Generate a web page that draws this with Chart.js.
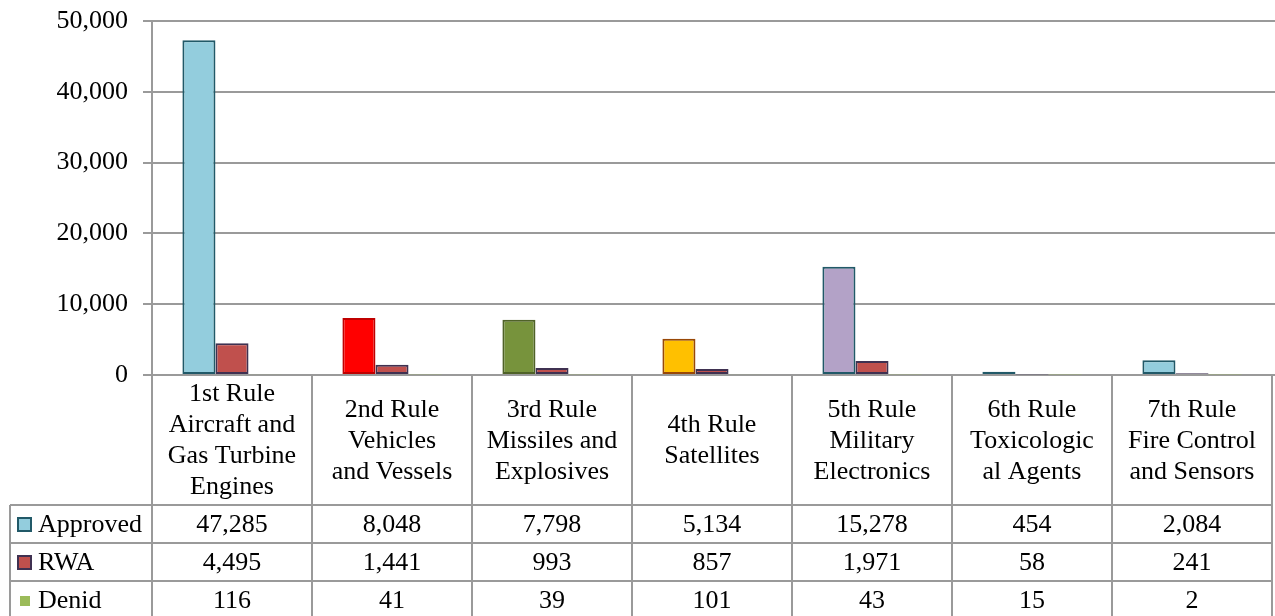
<!DOCTYPE html>
<html>
<head>
<meta charset="utf-8">
<script src="https://cdn.jsdelivr.net/npm/chart.js@4/dist/chart.umd.min.js"></script>
<style>
  html, body { margin: 0; padding: 0; background: #ffffff; }
  #wrap { width: 1275px; height: 616px; position: relative; }
</style>
</head>
<body>
<div id="wrap"><canvas id="c" width="1275" height="616"></canvas></div>
<script>
// ---- Data ----
const categories = [
  ["1st Rule", "Aircraft and", "Gas Turbine", "Engines"],
  ["2nd Rule", "Vehicles", "and Vessels"],
  ["3rd Rule", "Missiles and", "Explosives"],
  ["4th Rule", "Satellites"],
  ["5th Rule", "Military", "Electronics"],
  ["6th Rule", "Toxicologic", "al Agents"],
  ["7th Rule", "Fire Control", "and Sensors"]
];
const seriesNames = ["Approved", "RWA", "Denid"];
const approved = [47285, 8048, 7798, 5134, 15278, 454, 2084];
const rwa = [4495, 1441, 993, 857, 1971, 58, 241];
const denid = [116, 41, 39, 101, 43, 15, 2];
const yTicks = [0, 10000, 20000, 30000, 40000, 50000];

// ---- Styles ----
const approvedFill = ["#93CDDD", "#FF0000", "#77933C", "#FFC000", "#B3A2C7", "#93CDDD", "#93CDDD"];
const approvedBorder = ["#215968", "#C00000", "#4F6228", "#984807", "#215968", "#215968", "#215968"];
const FONT = "'Liberation Serif', 'Times New Roman', serif";
const FS = 26;
const GRID = "#9a9a9a";

const fmt = v => v.toLocaleString("en-US");
const seriesData = [approved, rwa, denid];

const tablePlugin = {
  id: "dataTable",
  afterDraw(chart) {
    const ctx = chart.ctx;
    const area = chart.chartArea;
    const xs = chart.scales.x;
    const n = categories.length;
    const w = (area.right - area.left) / n;
    const top = area.bottom;
    const headerBottom = top + 130;
    const rowH = 38;
    const rowsY = [headerBottom, headerBottom + rowH, headerBottom + 2 * rowH, headerBottom + 3 * rowH];
    const legendLeft = 10;
    ctx.save();
    ctx.strokeStyle = GRID;
    ctx.lineWidth = 2;
    // extend gridlines to right edge like the reference
    chart.scales.y.ticks.forEach(t => {
      const y = Math.round(chart.scales.y.getPixelForValue(t.value));
      ctx.beginPath();
      ctx.moveTo(area.right, y);
      ctx.lineTo(chart.width, y);
      ctx.stroke();
    });
    // vertical lines
    for (let i = 0; i <= n; i++) {
      const x = Math.round(area.left + i * w);
      ctx.beginPath();
      ctx.moveTo(x, top);
      ctx.lineTo(x, 620);
      ctx.stroke();
    }
    ctx.beginPath();
    ctx.moveTo(legendLeft, headerBottom);
    ctx.lineTo(legendLeft, 620);
    ctx.stroke();
    // horizontal lines
    for (let r = 0; r < 3; r++) {
      ctx.beginPath();
      ctx.moveTo(legendLeft, rowsY[r]);
      ctx.lineTo(area.right, rowsY[r]);
      ctx.stroke();
    }
    // header text
    ctx.fillStyle = "#000";
    ctx.font = FS + "px " + FONT;
    ctx.textAlign = "center";
    ctx.textBaseline = "middle";
    const lh = 31;
    const midH = (top + headerBottom) / 2;
    categories.forEach((lines, i) => {
      const cx = xs.getPixelForValue(i);
      const y0 = midH - (lines.length - 1) * lh / 2;
      lines.forEach((t, k) => ctx.fillText(t, cx, y0 + k * lh + 1));
    });
    // value rows
    seriesData.forEach((arr, r) => {
      const cy = (rowsY[r] + rowsY[r] + rowH) / 2 + 1;
      arr.forEach((v, i) => {
        ctx.fillText(fmt(v), xs.getPixelForValue(i), cy);
      });
    });
    // legend keys
    const keyFill = ["#93CDDD", "#C0504D", "#9BBB59"];
    const keyBorder = ["#215968", "#3F3151", null];
    ctx.textAlign = "left";
    seriesNames.forEach((name, r) => {
      const cy = (rowsY[r] + rowsY[r] + rowH) / 2;
      if (keyBorder[r]) {
        ctx.fillStyle = keyFill[r];
        ctx.fillRect(18, cy - 6, 13, 13);
        ctx.strokeStyle = keyBorder[r];
        ctx.lineWidth = 2;
        ctx.strokeRect(18, cy - 6, 13, 13);
      } else {
        ctx.fillStyle = keyFill[r];
        ctx.fillRect(20, cy - 4, 10, 10);
      }
      ctx.fillStyle = "#000";
      ctx.fillText(name, 38, cy + 1);
    });
    ctx.restore();
  }
};

new Chart(document.getElementById("c"), {
  type: "bar",
  data: {
    labels: categories.map(c => c.join(" ")),
    datasets: [
      { label: seriesNames[0], data: approved, backgroundColor: approvedFill, borderColor: approvedBorder, borderWidth: 2, borderSkipped: false },
      { label: seriesNames[1], data: rwa, backgroundColor: "#C0504D", borderColor: "#3F3151", borderWidth: 2, borderSkipped: false },
      { label: seriesNames[2], data: denid, backgroundColor: "rgba(155,187,89,0.25)", borderWidth: 0 }
    ]
  },
  options: {
    responsive: false,
    animation: false,
    devicePixelRatio: 1,
    categoryPercentage: 0.62,
    barPercentage: 1.0,
    layout: { padding: { top: 21, right: 3, bottom: 241, left: 0 } },
    plugins: { legend: { display: false }, tooltip: { enabled: false } },
    scales: {
      x: { display: false },
      y: {
        min: 0, max: 50000,
        afterFit(scale) { scale.width = 152; scale.paddingTop = 0; scale.paddingBottom = 0; },
        afterBuildTicks(scale) { scale.ticks = yTicks.map(v => ({ value: v })); },
        ticks: {
          font: { family: FONT, size: FS },
          color: "#000",
          padding: 15,
          callback: v => fmt(v)
        },
        grid: { color: GRID, lineWidth: 2, tickLength: 9, drawTicks: true },
        border: { color: GRID, width: 2 }
      }
    }
  },
  plugins: [tablePlugin]
});
</script>
</body>
</html>
